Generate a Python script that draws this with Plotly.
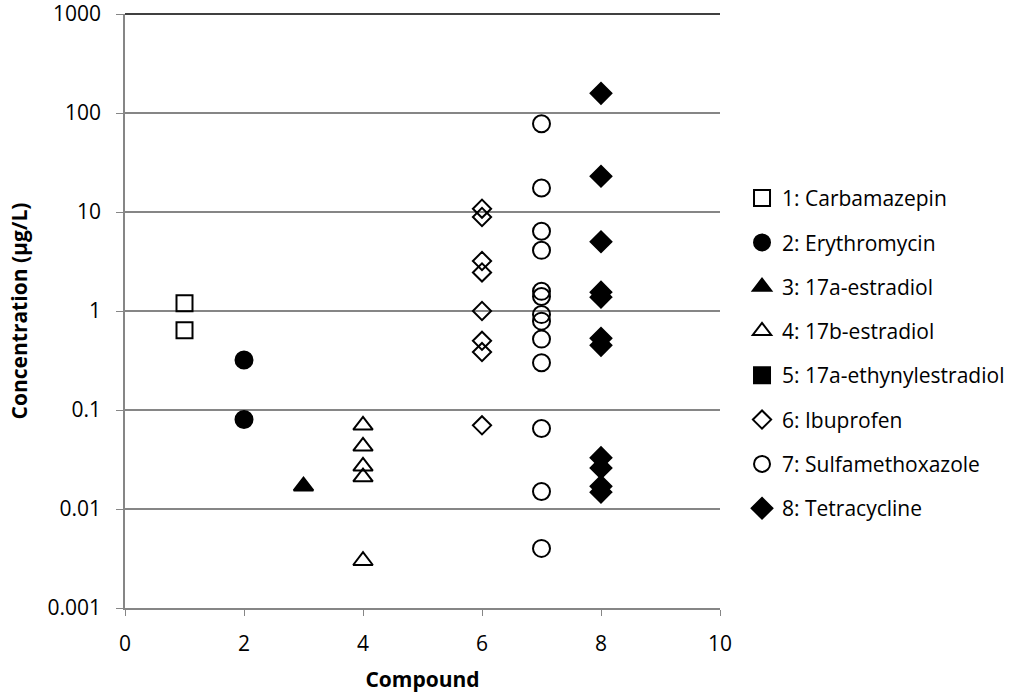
import plotly.graph_objects as go

names = ["1: Carbamazepin", "2: Erythromycin", "3: 17a-estradiol", "4: 17b-estradiol",
         "5: 17a-ethynylestradiol", "6: Ibuprofen", "7: Sulfamethoxazole", "8: Tetracycline"]
compound = [1, 2, 3, 4, 5, 6, 7, 8]
carbamazepin = [1.2, 0.64]
erythromycin = [0.32, 0.08]
estradiol_17a = [0.017]
estradiol_17b = [0.07, 0.043, 0.027, 0.021, 0.003]
ethynylestradiol = [None]
ibuprofen = [10.8, 8.9, 3.2, 2.45, 1.0, 0.5, 0.385, 0.07]
sulfamethoxazole = [78, 17.5, 6.4, 4.1, 1.58, 1.4, 0.92, 0.79, 0.52, 0.3, 0.065, 0.015, 0.004]
tetracycline = [158, 23, 5.0, 1.55, 1.38, 0.53, 0.45, 0.033, 0.026, 0.017, 0.0148]
series = [carbamazepin, erythromycin, estradiol_17a, estradiol_17b,
          ethynylestradiol, ibuprofen, sulfamethoxazole, tetracycline]
ytick_vals = [0.001, 0.01, 0.1, 1, 10, 100, 1000]
ytick_text = ["0.001", "0.01", "0.1", "1", "10", "100", "1000"]

styles = [
    dict(symbol="square-open", size=16),
    dict(symbol="circle", size=17),
    dict(symbol="triangle-up", size=17),
    dict(symbol="triangle-up-open", size=17),
    dict(symbol="square", size=16),
    dict(symbol="diamond-open", size=14),
    dict(symbol="circle-open", size=17),
    dict(symbol="diamond", size=16),
]

fig = go.Figure()
for i, (nm, vals, st) in enumerate(zip(names, series, styles)):
    xs = [compound[i]] * len(vals) if vals != [None] else [None]
    fig.add_trace(go.Scatter(
        x=xs, y=vals, mode="markers", name=nm, legendgroup=str(i),
        marker=dict(symbol=st["symbol"], size=st["size"], color="black",
                    line=dict(color="black", width=2)),
    ))

grid_col = "#868686"
fig.add_shape(type="line", xref="paper", yref="paper", x0=0, x1=1, y0=1, y1=1,
              line=dict(color="black", width=1.5))

fnt = "Open Sans, Noto Sans, sans-serif"
fig.update_layout(
    width=1024, height=696,
    margin=dict(l=125, r=304, t=14, b=88, autoexpand=False),
    paper_bgcolor="white", plot_bgcolor="white",
    font=dict(family=fnt, size=21, color="black"),
    showlegend=True,
    legend=dict(x=1.037, y=0.724, xanchor="left", yanchor="top",
                font=dict(size=21), tracegroupgap=14,
                itemsizing="trace"),
    xaxis=dict(range=[0, 10], dtick=2, showgrid=False, zeroline=False, automargin=False,
               showline=True, linecolor=grid_col, linewidth=1.5,
               ticks="outside", tickcolor=grid_col, ticklen=6,
               ticklabelstandoff=10, tickfont=dict(size=21),
               title=dict(text="<b>Compound</b>", font=dict(size=21), standoff=16)),
    yaxis=dict(type="log", range=[-3, 3], automargin=False,
               tickvals=ytick_vals, ticktext=ytick_text, ticklabeloverflow="allow",
               showgrid=True, gridcolor=grid_col, gridwidth=1.5,
               zeroline=False, showline=True, linecolor=grid_col, linewidth=1.5,
               ticks="outside", tickcolor=grid_col, ticklen=7,
               ticklabelstandoff=11, tickfont=dict(size=21),
               title=dict(text="<b>Concentration (µg/L)</b>", font=dict(size=21), standoff=14)),
)

fig.write_html("out.html", config={"displayModeBar": False},
               post_script="document.body.style.margin='0';")
